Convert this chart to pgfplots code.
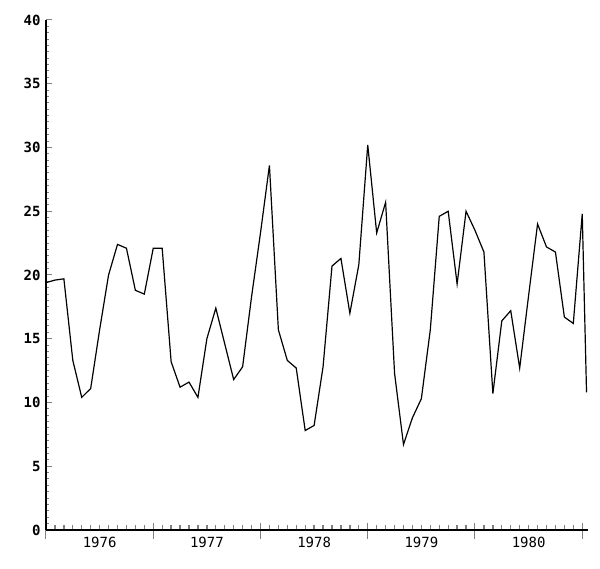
\documentclass[border=0pt]{standalone}
\usepackage{fontspec}
\setmonofont{DejaVu Sans Mono}
\usepackage{pgfplots}
\pgfplotsset{compat=1.18}
\begin{document}
\begin{tikzpicture}[x=1pt,y=1pt]
\useasboundingbox (0,0) rectangle (600,569);
\begin{axis}[
  at={(46pt,39pt)}, anchor=south west,
  scale only axis, width=541.6pt, height=510pt,
  xmin=1976, xmax=1981.05, ymin=0, ymax=40,
  axis lines=left, axis line style={line width=1.1pt,-},
  tick align=inside,
  ytick={0,5,...,40}, minor y tick num=9,
  yticklabel style={font=\ttfamily\bfseries\fontsize{14}{14}\selectfont, xshift=-2pt},
  /pgf/number format/assume math mode=true,
  y tick style={line width=1pt},
  xtick={1976,...,1981}, xticklabels={},
  minor xtick={1976.08333,1976.16667,1976.25,1976.33333,1976.41667,1976.5,1976.58333,1976.66667,1976.75,1976.83333,1976.91667,
    1977.08333,1977.16667,1977.25,1977.33333,1977.41667,1977.5,1977.58333,1977.66667,1977.75,1977.83333,1977.91667,
    1978.08333,1978.16667,1978.25,1978.33333,1978.41667,1978.5,1978.58333,1978.66667,1978.75,1978.83333,1978.91667,
    1979.08333,1979.16667,1979.25,1979.33333,1979.41667,1979.5,1979.58333,1979.66667,1979.75,1979.83333,1979.91667,
    1980.08333,1980.16667,1980.25,1980.33333,1980.41667,1980.5,1980.58333,1980.66667,1980.75,1980.83333,1980.91667},
  xtick align=inside,
  major x tick style={line width=1pt, yshift=-9pt, /pgfplots/major tick length=16pt},
  minor x tick style={line width=1.3pt, /pgfplots/minor tick length=5pt},
  major tick length=6pt, minor tick length=3.5pt,
  extra x ticks={1976.5,1977.5,1978.5,1979.5,1980.5},
  extra x tick labels={1976,1977,1978,1979,1980},
  extra x tick style={major tick length=0pt, major x tick style={draw=none}, xticklabel style={font=\ttfamily\fontsize{14}{14}\selectfont, yshift=-4pt}},
  clip=false,
]
\addplot[black, line width=1.2pt, line join=miter] table {
x y
1976.0000 19.4
1976.0833 19.6
1976.1667 19.7
1976.2500 13.3
1976.3333 10.4
1976.4167 11.1
1976.5000 15.7
1976.5833 20.0
1976.6667 22.4
1976.7500 22.1
1976.8333 18.8
1976.9167 18.5
1977.0000 22.1
1977.0833 22.1
1977.1667 13.2
1977.2500 11.2
1977.3333 11.6
1977.4167 10.4
1977.5000 15.0
1977.5833 17.4
1977.6667 14.6
1977.7500 11.8
1977.8333 12.8
1977.9167 18.3
1978.0000 23.3
1978.0833 28.6
1978.1667 15.7
1978.2500 13.3
1978.3333 12.7
1978.4167 7.8
1978.5000 8.2
1978.5833 12.8
1978.6667 20.7
1978.7500 21.3
1978.8333 17.0
1978.9167 20.8
1979.0000 30.2
1979.0833 23.3
1979.1667 25.7
1979.2500 12.3
1979.3333 6.7
1979.4167 8.8
1979.5000 10.3
1979.5833 15.7
1979.6667 24.6
1979.7500 25.0
1979.8333 19.3
1979.9167 25.0
1980.0000 23.5
1980.0833 21.8
1980.1667 10.7
1980.2500 16.4
1980.3333 17.2
1980.4167 12.7
1980.5000 18.4
1980.5833 24.0
1980.6667 22.2
1980.7500 21.8
1980.8333 16.7
1980.9167 16.2
1981.0000 24.8
1981.0400 10.8
};
\end{axis}
\end{tikzpicture}
\end{document}
